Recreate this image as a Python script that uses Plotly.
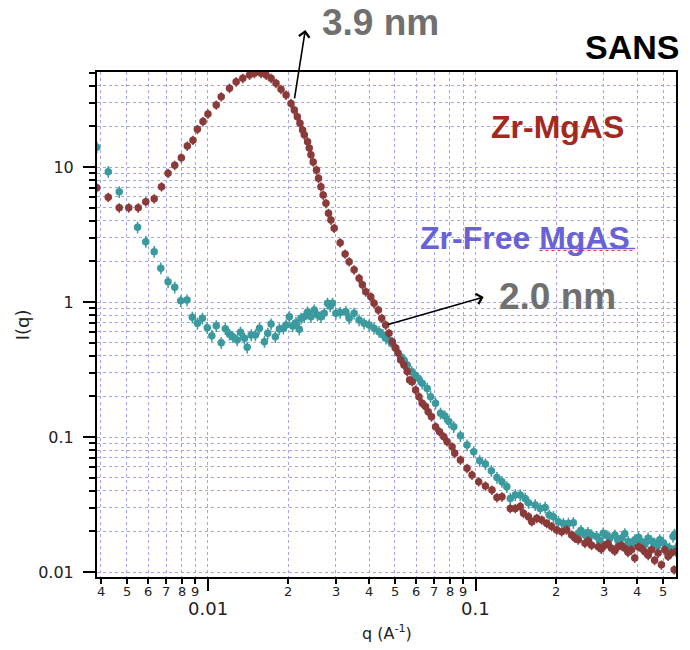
import math
import plotly.graph_objects as go

# ---------------- data ----------------
q_zr = [0.00386, 0.00426, 0.00468, 0.00508, 0.00551, 0.00588, 0.00632, 0.00673, 0.00712, 0.00754,
        0.00798, 0.00840, 0.00882, 0.00916, 0.00961, 0.01003, 0.01077, 0.01124, 0.01207, 0.01278,
        0.01353, 0.01433, 0.01495, 0.01584, 0.01653, 0.01725, 0.01800, 0.01879, 0.01962, 0.02047,
        0.02106, 0.02161, 0.02211, 0.02261, 0.02294, 0.02360, 0.02394, 0.02429, 0.02477, 0.02548,
        0.02593, 0.02647, 0.02699, 0.02763, 0.02825, 0.02884, 0.02966, 0.03122, 0.03258, 0.03373,
        0.03520, 0.03673, 0.03778, 0.03890, 0.04061, 0.04177, 0.04334, 0.04462, 0.04617, 0.04749,
        0.04885, 0.05029, 0.05129, 0.05249, 0.05400, 0.05555, 0.05670, 0.05798, 0.05969, 0.06140,
        0.06316, 0.06501, 0.06648, 0.06844, 0.07084, 0.07328, 0.07603, 0.07822, 0.08164, 0.08354,
        0.08772, 0.09283, 0.09688, 0.1026, 0.1087, 0.1150, 0.1200, 0.1253, 0.1346, 0.1405,
        0.1466, 0.1508, 0.1574, 0.1619, 0.1690, 0.1764, 0.1841, 0.1921, 0.2005, 0.2093,
        0.2185, 0.2280, 0.2415, 0.2557, 0.2706, 0.2865, 0.3035, 0.3211, 0.3401, 0.3602,
        0.3811, 0.4036, 0.4275, 0.4523, 0.4789, 0.5070, 0.5367, 0.5587,
        0.2350, 0.2630, 0.2940, 0.3120, 0.3300, 0.3500, 0.3700, 0.3920, 0.4150, 0.4400,
        0.4650, 0.4930, 0.5220, 0.5500]
i_zr = [7.03, 5.97, 4.99, 4.99, 4.99, 5.53, 5.82, 7.15, 8.98, 10.3,
        11.7, 14.3, 15.8, 19.0, 21.7, 24.7, 28.8, 33.2, 38.3, 42.8,
        45.4, 48.0, 49.4, 49.4, 48.0, 45.4, 41.7, 37.6, 34.1, 29.6,
        26.4, 23.6, 21.1, 18.8, 17.3, 15.4, 13.8, 12.3, 10.9, 9.50,
        8.25, 7.15, 6.20, 5.38, 4.54, 4.05, 3.52, 2.75, 2.27, 1.99,
        1.73, 1.50, 1.34, 1.19, 1.095, 0.978, 0.872, 0.757, 0.675, 0.586,
        0.508, 0.456, 0.419, 0.372, 0.341, 0.305, 0.264, 0.257, 0.223, 0.199,
        0.178, 0.168, 0.154, 0.141, 0.119, 0.1095, 0.1005, 0.0923, 0.0848, 0.0757,
        0.0675, 0.0586, 0.0523, 0.0467, 0.0434, 0.0405, 0.0356, 0.0361, 0.0296, 0.0296,
        0.0305, 0.0272, 0.0257, 0.0236, 0.0250, 0.0243, 0.0229, 0.0217, 0.0205, 0.0199,
        0.0205, 0.0188, 0.0173, 0.0163, 0.0158, 0.0154, 0.0158, 0.0150, 0.0154, 0.0150,
        0.0146, 0.0154, 0.0141, 0.0146, 0.0138, 0.0146, 0.0138, 0.0141,
        0.0178, 0.0170, 0.0148, 0.0162, 0.0143, 0.0157, 0.0140, 0.0127, 0.0150, 0.0133,
        0.0122, 0.0113, 0.0131, 0.0104]

q_free = [0.00386, 0.00426, 0.00468, 0.00548, 0.00588, 0.00632, 0.00669, 0.00712, 0.00754, 0.00794,
          0.00838, 0.00877, 0.00916, 0.00956, 0.00997, 0.01037, 0.01077, 0.01124, 0.01164, 0.01207,
          0.01242, 0.01289, 0.01326, 0.01372, 0.01405, 0.01454, 0.01508, 0.01561, 0.01629, 0.01676,
          0.01725, 0.01789, 0.01852, 0.01917, 0.01962, 0.02018, 0.02076, 0.02137, 0.02198, 0.02230,
          0.02294, 0.02360, 0.02429, 0.02499, 0.02570, 0.02647, 0.02722, 0.02801, 0.02866, 0.02923,
          0.03009, 0.03122, 0.03279, 0.03373, 0.03520, 0.03673, 0.03834, 0.04002, 0.04177, 0.04359,
          0.04511, 0.04628, 0.04749, 0.04885, 0.05029, 0.05249, 0.05400, 0.05555, 0.05768, 0.05933,
          0.06103, 0.06316, 0.06592, 0.06787, 0.07084, 0.07393, 0.07671, 0.07937, 0.08284, 0.08772,
          0.09283, 0.09831, 0.1035, 0.1087, 0.1144, 0.1200, 0.1253, 0.1307, 0.1346, 0.1405,
          0.1466, 0.1530, 0.1574, 0.1667, 0.1740, 0.1816, 0.1879, 0.1950, 0.2035, 0.2124,
          0.2217, 0.2314, 0.2415, 0.2557, 0.2706, 0.2824, 0.2991, 0.3167, 0.3306, 0.3499,
          0.3706, 0.3925, 0.4151, 0.4396, 0.4656, 0.4861, 0.5143, 0.5446, 0.5587,
          0.2470, 0.2620, 0.2900, 0.3080, 0.3400, 0.3600, 0.3820, 0.4050, 0.4280, 0.4520,
          0.4760, 0.5010, 0.5290, 0.5520]
i_free = [14.0, 9.23, 6.56, 3.58, 2.80, 2.36, 1.78, 1.41, 1.285, 1.02,
          1.035, 0.770, 0.695, 0.757, 0.645, 0.563, 0.667, 0.499, 0.634, 0.576,
          0.553, 0.523, 0.596, 0.538, 0.462, 0.570, 0.570, 0.639, 0.508, 0.586,
          0.687, 0.553, 0.631, 0.639, 0.675, 0.778, 0.664, 0.703, 0.628, 0.757,
          0.778, 0.843, 0.778, 0.872, 0.801, 0.778, 0.825, 0.978, 0.934, 0.978,
          0.825, 0.836, 0.848, 0.757, 0.825, 0.736, 0.695, 0.675, 0.639, 0.603,
          0.570, 0.538, 0.523, 0.489, 0.454, 0.393, 0.372, 0.341, 0.305, 0.288,
          0.272, 0.250, 0.229, 0.199, 0.178, 0.150, 0.143, 0.130, 0.119, 0.102,
          0.0873, 0.0778, 0.0667, 0.0631, 0.0563, 0.0501, 0.0467, 0.0428, 0.0351, 0.0372,
          0.0372, 0.0351, 0.0326, 0.0314, 0.0296, 0.0301, 0.0264, 0.0257, 0.0236, 0.0229,
          0.0229, 0.0232, 0.0194, 0.0188, 0.0188, 0.0183, 0.0194, 0.0178, 0.0188, 0.0178,
          0.0168, 0.0173, 0.0168, 0.0178, 0.0163, 0.0173, 0.0154, 0.0183, 0.0150,
          0.0203, 0.0196, 0.0172, 0.0186, 0.0170, 0.0192, 0.0160, 0.0181, 0.0160, 0.0170,
          0.0155, 0.0165, 0.0150, 0.0190]

assert len(q_zr) == len(i_zr) and len(q_free) == len(i_free)

x_major = [0.01, 0.1]
x_major_text = ["0.01", "0.1"]
x_minor = [0.004, 0.005, 0.006, 0.007, 0.008, 0.009,
           0.02, 0.03, 0.04, 0.05, 0.06, 0.07, 0.08, 0.09,
           0.2, 0.3, 0.4, 0.5]
x_minor_text = ["4", "5", "6", "7", "8", "9",
                "2", "3", "4", "5", "6", "7", "8", "9",
                "2", "3", "4", "5"]
y_major = [0.01, 0.1, 1, 10]
y_major_text = ["0.01", "0.1", "1", "10"]
y_minor = [m * d for d in (0.01, 0.1, 1, 10) for m in range(2, 10) if m * d <= 50]

RED = "#8b3a3a"
TEAL = "#3a9a9e"
GRID = "#a3a3f5"
TICKFONT = "DejaVu Sans"
BOLD = "Liberation Sans"

fig = go.Figure()
fig.add_trace(go.Scatter(
    x=q_free, y=i_free, mode="markers", name="Zr-Free MgAS",
    marker=dict(color=TEAL, size=7.5),
    error_y=dict(type="percent", value=10, color=TEAL, thickness=1.5, width=0),
    showlegend=False))
fig.add_trace(go.Scatter(
    x=q_zr, y=i_zr, mode="markers", name="Zr-MgAS",
    marker=dict(color=RED, size=7.5),
    error_y=dict(type="percent", value=8, color=RED, thickness=1.5, width=0),
    showlegend=False))

axis_common = dict(
    type="log", showline=True, linecolor="black", linewidth=2, mirror=True,
    ticks="outside", tickcolor="black", tickwidth=1.5,
    showgrid=True, gridcolor=GRID, griddash="dot", gridwidth=1, zeroline=False,
)

fig.update_xaxes(
    **axis_common,
    range=[-2.4126, -0.2528],
    tickmode="array", tickvals=x_major, ticktext=x_major_text, ticklen=12,
    showticklabels=False,
    minor=dict(tickmode="array", tickvals=x_minor, ticks="outside", ticklen=5,
               tickcolor="black", tickwidth=1.5,
               showgrid=True, gridcolor=GRID, griddash="dot", gridwidth=1),
)
fig.update_yaxes(
    **axis_common,
    range=[-2.037, 1.7037],
    tickmode="array", tickvals=y_major, ticktext=y_major_text, ticklen=12,
    tickfont=dict(family=TICKFONT, size=16, color="#222222"),
    ticklabelstandoff=6,
    minor=dict(tickmode="array", tickvals=y_minor, ticks="outside", ticklen=6,
               tickcolor="black", tickwidth=1.5,
               showgrid=True, gridcolor=GRID, griddash="dot", gridwidth=1),
)

annotations = []
# x tick labels (minor digits and decade labels)
for v, t in zip(x_minor, x_minor_text):
    annotations.append(dict(x=math.log10(v), xref="x", y=0, yref="paper",
                            xanchor="center", yanchor="top", yshift=-6, text=t,
                            showarrow=False, borderpad=0,
                            font=dict(family=TICKFONT, size=13, color="#222222")))
for v, t in zip(x_major, x_major_text):
    annotations.append(dict(x=math.log10(v), xref="x", y=0, yref="paper",
                            xanchor="center", yanchor="top", yshift=-20, text=t,
                            showarrow=False, borderpad=0,
                            font=dict(family=TICKFONT, size=18, color="#222222")))
# axis titles
annotations.append(dict(x=-0.129, y=0.499, xref="paper", yref="paper", text="I(q)",
                        xanchor="center", yanchor="middle", textangle=-90, showarrow=False,
                        font=dict(family=TICKFONT, size=18, color="#222222")))
annotations.append(dict(x=0.5, y=-0.109, xref="paper", yref="paper",
                        xanchor="center", yanchor="middle",
                        text="q (A<sup>-1</sup>)", showarrow=False,
                        font=dict(family=TICKFONT, size=16, color="#222222")))
# big labels
big = dict(xref="paper", yref="paper", xanchor="center", yanchor="middle", showarrow=False)
annotations += [
    dict(x=0.4888, y=1.099, text="<b>3.9 nm</b>",
         font=dict(family=BOLD, size=37, color="#707070"), **big),
    dict(x=0.924, y=1.0495, text="<b>SANS</b>",
         font=dict(family=BOLD, size=34, color="black"), **big),
    dict(x=0.795, y=0.891, text="<b>Zr-MgAS</b>",
         font=dict(family=BOLD, size=32, color="#a3281e"), **big),
    dict(x=0.740, y=0.6713, text="<b>Zr-Free MgAS</b>",
         font=dict(family=BOLD, size=32, color="#6962d6"), **big),
    dict(x=0.795, y=0.5545, text="<b>2.0 nm</b>",
         font=dict(family=BOLD, size=37, color="#707070"), **big),
]
# arrows
annotations += [
    dict(x=0.3597, y=1.0832, xref="paper", yref="paper", text="", showarrow=True,
         ax=-11, ay=70, arrowhead=4, arrowsize=1.3, arrowwidth=1.6, arrowcolor="black"),
    dict(x=0.6678, y=0.5545, xref="paper", yref="paper", text="", showarrow=True,
         ax=-97, ay=28, arrowhead=4, arrowsize=1.3, arrowwidth=1.6, arrowcolor="black"),
]

shapes = [
    dict(type="rect", xref="paper", yref="paper", x0=0.6248, x1=0.957, y0=0.8257, y1=0.978,
         fillcolor="white", line=dict(width=0), layer="between"),
    dict(type="rect", xref="paper", yref="paper", x0=0.5215, x1=0.957, y0=0.618, y1=0.711,
         fillcolor="white", line=dict(width=0), layer="between"),
    dict(type="rect", xref="paper", yref="paper", x0=0.6678, x1=0.957, y0=0.5248, y1=0.618,
         fillcolor="white", line=dict(width=0), layer="between"),
    dict(type="line", xref="paper", yref="paper", x0=0.7642, x1=0.9294, y0=0.6505, y1=0.6505,
         line=dict(color="#6962d6", width=1.5)),
    dict(type="line", xref="paper", yref="paper", x0=0.7642, x1=0.9294, y0=0.6465, y1=0.6465,
         line=dict(color="#e04040", width=1, dash="dot")),
]

fig.update_layout(
    width=690, height=650,
    margin=dict(l=97, r=12, t=72, b=73),
    paper_bgcolor="white", plot_bgcolor="white",
    annotations=annotations, shapes=shapes,
    showlegend=False,
)

fig.write_html("out.html", config={"displayModeBar": False},
               post_script="document.body.style.margin='0px';")
